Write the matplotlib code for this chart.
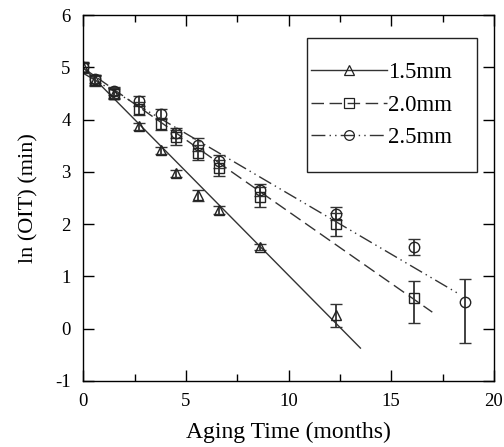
import numpy as np
import matplotlib
matplotlib.use("Agg")
import matplotlib.pyplot as plt
from matplotlib.patches import Rectangle
from matplotlib.ticker import MultipleLocator

plt.rcParams["font.family"] = ["Liberation Serif", "DejaVu Serif"]
plt.rcParams["axes.unicode_minus"] = False

# 1.5 mm samples
t15 = [0, 0.6, 1.5, 2.7, 3.8, 4.5, 5.6, 6.6, 8.6, 12.3]
y15 = [5.0, 4.75, 4.5, 3.87, 3.41, 2.97, 2.55, 2.27, 1.56, 0.26]
lo15 = [0.08, 0.08, 0.08, 0.07, 0.06, 0.06, 0.1, 0.07, 0.06, 0.22]
hi15 = [0.08, 0.08, 0.08, 0.07, 0.06, 0.06, 0.1, 0.07, 0.06, 0.21]

# 2.0 mm samples
t20 = [0, 0.6, 1.5, 2.7, 3.8, 4.5, 5.6, 6.6, 8.6, 12.3, 16.1]
y20 = [5.0, 4.75, 4.5, 4.21, 3.92, 3.66, 3.37, 3.08, 2.52, 2.0, 0.58]
lo20 = [0.1, 0.1, 0.1, 0.12, 0.12, 0.15, 0.15, 0.15, 0.2, 0.22, 0.47]
hi20 = [0.1, 0.1, 0.1, 0.12, 0.12, 0.15, 0.15, 0.15, 0.2, 0.22, 0.33]

# 2.5 mm samples
t25 = [0, 0.6, 1.5, 2.7, 3.8, 4.5, 5.6, 6.6, 8.6, 12.3, 16.1, 18.6]
y25 = [5.0, 4.78, 4.55, 4.36, 4.11, 3.75, 3.52, 3.2, 2.65, 2.2, 1.56, 0.51]
lo25 = [0.08, 0.08, 0.08, 0.1, 0.1, 0.1, 0.12, 0.12, 0.12, 0.12, 0.15, 0.78]
hi25 = [0.08, 0.08, 0.08, 0.1, 0.1, 0.1, 0.12, 0.12, 0.12, 0.12, 0.15, 0.44]

# linear fits: intercept, slope, end of line
fit15 = (5.0, -0.398, 13.5)
fit20 = (4.99, -0.275, 17.0)
fit25 = (4.89, -0.231, 18.3)

fig = plt.figure(figsize=(5.04, 4.47), dpi=100)
ax = fig.add_axes([0.165, 0.148, 0.815, 0.818])

lc = "#333333"
styles = [
    ("1.5mm", t15, y15, lo15, hi15, fit15, "^", "-"),
    ("2.0mm", t20, y20, lo20, hi20, fit20, "s", (0, (9, 4))),
    ("2.5mm", t25, y25, lo25, hi25, fit25, "o", (0, (10, 3, 1, 3, 1, 3))),
]

handles = []
for label, t, y, lo, hi, fit, mk, ls in styles:
    ax.errorbar(t, y, yerr=[lo, hi], fmt=mk, mfc="none", mec="#222222",
                ms=7.5, mew=1.0, ecolor="#333333", elinewidth=1.3,
                capsize=4.5, capthick=1.3)
    xs = np.array([0, fit[2]])
    ax.plot(xs, fit[0] + fit[1] * xs, color=lc, lw=1.0, linestyle=ls)
    h, = ax.plot([], [], color=lc, lw=1.0, linestyle=ls, marker=mk,
                 mfc="none", mec="#222222", ms=7, mew=0.9)
    handles.append((h, label))

ax.set_xlim(0, 20)
ax.set_ylim(-1, 6)
ax.xaxis.set_major_locator(MultipleLocator(5))
ax.xaxis.set_minor_locator(MultipleLocator(2.5))
ax.yaxis.set_major_locator(MultipleLocator(1))
ax.tick_params(which="both", direction="in", top=True, right=True,
               labelsize=13.5, width=1.0)
ax.tick_params(which="major", length=8, pad=9)
ax.tick_params(which="minor", length=5)
for s in ax.spines.values():
    s.set_linewidth(1.0)

ax.set_xlabel("Aging Time (months)", fontsize=17, labelpad=8)
ax.set_ylabel("ln (OIT) (min)", fontsize=16, labelpad=12)

ax.add_patch(Rectangle((0.545, 0.571), 0.414, 0.366, transform=ax.transAxes,
                       fill=False, lw=1.0, ec="#222222", zorder=5))
ax.legend([h for h, _ in handles], [l for _, l in handles], frameon=False,
          loc="center left", bbox_to_anchor=(0.555, 0.754), fontsize=16.5,
          handlelength=3.3, handletextpad=0.05, labelspacing=0.5,
          borderpad=0, borderaxespad=0)

fig.savefig("out.png", dpi=100)
